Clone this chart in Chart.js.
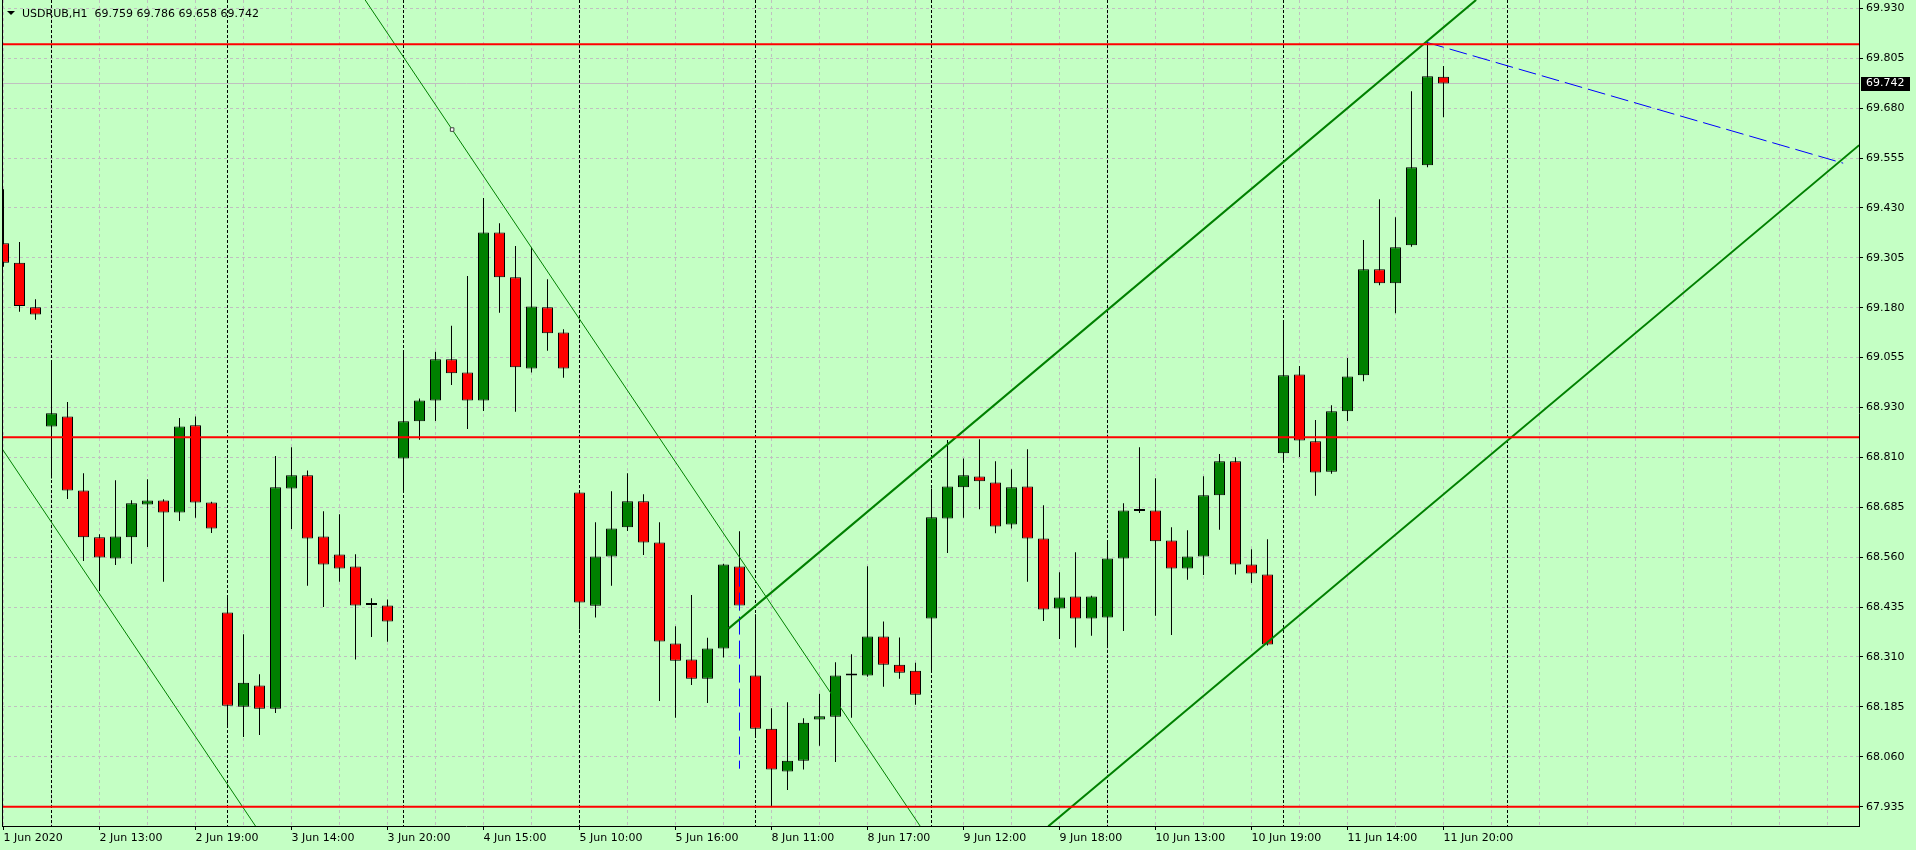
<!DOCTYPE html>
<html>
<head>
<meta charset="utf-8">
<title>USDRUB,H1</title>
<script src="https://cdn.jsdelivr.net/npm/chart.js@4.4.1/dist/chart.umd.min.js"></script>
<style>
    html, body { margin: 0; padding: 0; background: #c4ffc4; overflow: hidden; }
    #wrap { width: 1916px; height: 850px; }
</style>
</head>
<body>
<div id="wrap"><canvas id="chart" width="1916" height="850"></canvas></div>
<script>
// =============================================
// USDRUB H1 candles (MT4 look) drawn with Chart.js
// =============================================

const symbol = 'USDRUB,H1';

// one label every 6 bars, starting at bar 0
const timeLabels = [
    '1 Jun 2020', '2 Jun 13:00', '2 Jun 19:00', '3 Jun 14:00', '3 Jun 20:00', '4 Jun 15:00',
    '5 Jun 10:00', '5 Jun 16:00', '8 Jun 11:00', '8 Jun 17:00', '9 Jun 12:00', '9 Jun 18:00',
    '10 Jun 13:00', '10 Jun 19:00', '11 Jun 14:00', '11 Jun 20:00'
];

const yTickLabels = [
    '69.930', '69.805', '69.680', '69.555', '69.430', '69.305', '69.180', '69.055', '68.930',
    '68.810', '68.685', '68.560', '68.435', '68.310', '68.185', '68.060', '67.935'
];

const opens = [
    69.343, 69.294, 69.183, 68.885, 68.910, 68.725, 68.608, 68.555, 68.608, 68.690,
    68.700, 68.670, 68.888, 68.695, 68.420, 68.185, 68.238, 68.180, 68.730, 68.763,
    68.610, 68.565, 68.535, 68.439, 68.438, 68.805, 68.898, 68.950, 69.053, 69.020,
    68.950, 69.370, 69.258, 69.030, 69.183, 69.120, 68.720, 68.437, 68.560, 68.633,
    68.698, 68.595, 68.343, 68.303, 68.255, 68.330, 68.535, 68.263, 68.130, 68.023,
    68.050, 68.153, 68.160, 68.263, 68.263, 68.360, 68.290, 68.275, 68.405, 68.655,
    68.733, 68.760, 68.745, 68.640, 68.735, 68.605, 68.430, 68.460, 68.405, 68.408,
    68.555, 68.675, 68.675, 68.600, 68.530, 68.560, 68.713, 68.798, 68.540, 68.515,
    68.818, 69.015, 68.848, 68.772, 68.923, 69.013, 69.278, 69.243, 69.338, 69.538,
    69.759
];

const highs = [
    69.478, 69.346, 69.203, 69.045, 68.946, 68.768, 68.616, 68.751, 68.701, 68.753,
    68.703, 68.906, 68.910, 68.697, 68.461, 68.366, 68.266, 68.811, 68.833, 68.775,
    68.673, 68.666, 68.566, 68.456, 68.453, 69.075, 68.955, 69.072, 69.137, 69.261,
    69.456, 69.393, 69.336, 69.333, 69.253, 69.128, 68.726, 68.646, 68.723, 68.768,
    68.716, 68.646, 68.386, 68.464, 68.357, 68.542, 68.623, 68.416, 68.181, 68.196,
    68.156, 68.217, 68.296, 68.316, 68.536, 68.398, 68.358, 68.295, 68.730, 68.851,
    68.805, 68.853, 68.798, 68.778, 68.828, 68.688, 68.521, 68.571, 68.462, 68.596,
    68.693, 68.833, 68.756, 68.633, 68.626, 68.761, 68.816, 68.808, 68.578, 68.603,
    69.151, 69.036, 68.901, 68.938, 69.056, 69.351, 69.453, 69.408, 69.723, 69.845,
    69.786
];

const lows = [
    69.284, 69.172, 69.152, 68.755, 68.704, 68.549, 68.474, 68.539, 68.542, 68.584,
    68.497, 68.649, 68.657, 68.619, 68.138, 68.109, 68.114, 68.169, 68.629, 68.487,
    68.434, 68.497, 68.303, 68.359, 68.347, 68.724, 68.852, 68.899, 68.989, 68.879,
    68.924, 69.169, 68.922, 69.020, 69.074, 69.007, 68.378, 68.408, 68.487, 68.624,
    68.564, 68.199, 68.157, 68.239, 68.194, 68.308, 68.426, 68.109, 67.934, 67.977,
    68.028, 68.087, 68.047, 68.157, 68.260, 68.235, 68.255, 68.190, 68.275, 68.569,
    68.657, 68.678, 68.618, 68.630, 68.497, 68.399, 68.354, 68.333, 68.362, 68.334,
    68.374, 68.669, 68.412, 68.364, 68.502, 68.514, 68.627, 68.515, 68.494, 68.338,
    68.799, 68.809, 68.712, 68.767, 68.899, 68.998, 69.238, 69.168, 69.334, 69.533,
    69.658
];

const closes = [
    69.294, 69.186, 69.165, 68.918, 68.725, 68.608, 68.558, 68.610, 68.693, 68.700,
    68.670, 68.885, 68.695, 68.630, 68.187, 68.245, 68.180, 68.733, 68.763, 68.605,
    68.540, 68.530, 68.438, 68.439, 68.398, 68.898, 68.950, 69.053, 69.018, 68.950,
    69.370, 69.258, 69.033, 69.185, 69.118, 69.030, 68.445, 68.560, 68.630, 68.698,
    68.595, 68.348, 68.300, 68.255, 68.330, 68.540, 68.438, 68.130, 68.028, 68.050,
    68.145, 68.161, 68.263, 68.268, 68.360, 68.290, 68.270, 68.215, 68.658, 68.735,
    68.763, 68.748, 68.635, 68.733, 68.605, 68.428, 68.458, 68.405, 68.460, 68.555,
    68.675, 68.674, 68.598, 68.530, 68.560, 68.713, 68.798, 68.540, 68.518, 68.340,
    69.013, 68.850, 68.770, 68.923, 69.010, 69.278, 69.243, 69.333, 69.533, 69.760,
    69.742
];

// chart objects (bar index / price)
const levelPrices = [69.840, 68.858, 67.935];
const daySeparators = [3, 14, 25, 36, 47, 58, 69, 80, 94];
const thinLineA = [{ x: 22.6, y: 69.951 }, { x: 28.04, y: 69.627 }, { x: 57.3, y: 67.886 }];
const thinLineB = [{ x: -0.08, y: 68.829 }, { x: 15.76, y: 67.886 }];
const channelTop = [{ x: 45.31, y: 68.380 }, { x: 92.04, y: 69.951 }];
const channelBottom = [{ x: 65.30, y: 67.886 }, { x: 115.98, y: 69.588 }];
const blueDashed = [{ x: 88.94, y: 69.845 }, { x: 114.98, y: 69.543 }];
const blueVertical = [{ x: 46, y: 68.530 }, { x: 46, y: 68.030 }];

const colors = {
    bg: '#c4ffc4',
    grid: '#c0c0c0',
    bull: '#008000',
    bear: '#ff0000',
    level: '#ff0000',
    trend: '#008000',
    blue: '#0000ff'
};

const fontFamily = '"DejaVu Sans", Verdana, sans-serif';
const lastIndex = closes.length - 1;
const xMin = -0.094;
const xMax = 115.97;

const yTop = parseFloat(yTickLabels[0]);
const yBottom = parseFloat(yTickLabels[yTickLabels.length - 1]);
const yStep = (yTop - yBottom) / (yTickLabels.length - 1);

Chart.defaults.font.family = fontFamily;
Chart.defaults.font.size = 11;
Chart.defaults.color = '#000';

const lineSet = (data, color, width, dash) => ({
    type: 'line',
    data: data,
    borderColor: color,
    borderWidth: width,
    borderDash: dash || [],
    pointRadius: 0,
    fill: false,
    tension: 0,
    clip: 0,
    order: 1
});

const levelSets = levelPrices.map(p => lineSet([{ x: xMin - 1, y: p }, { x: xMax + 1, y: p }], colors.level, 2));

const markerSet = lineSet(thinLineA, colors.trend, 1);
markerSet.pointRadius = thinLineA.map((p, i) => (i === 1 ? 2.5 : 0));
markerSet.pointStyle = 'rect';
markerSet.pointBackgroundColor = '#ffffff';
markerSet.pointBorderColor = '#404040';
markerSet.pointBorderWidth = 1;

// background, frame, separators, bid line
const mt4Plugin = {
    id: 'mt4',
    beforeDraw: (chart) => {
        const ctx = chart.ctx;
        ctx.save();
        ctx.fillStyle = colors.bg;
        ctx.fillRect(0, 0, chart.width, chart.height);
        ctx.restore();
    },
    beforeDatasetsDraw: (chart) => {
        const { ctx, chartArea, scales } = chart;
        ctx.save();
        // bid line
        const by = Math.round(scales.y.getPixelForValue(closes[lastIndex]) - 0.5) + 0.5;
        ctx.strokeStyle = colors.grid;
        ctx.lineWidth = 1;
        ctx.beginPath();
        ctx.moveTo(chartArea.left, by);
        ctx.lineTo(chartArea.right, by);
        ctx.stroke();
        // period separators
        ctx.strokeStyle = '#000';
        ctx.setLineDash([3, 2]);
        daySeparators.forEach(i => {
            const x = Math.round(scales.x.getPixelForValue(i) - 0.5) + 0.5;
            ctx.beginPath();
            ctx.moveTo(x, chartArea.top);
            ctx.lineTo(x, chartArea.bottom);
            ctx.stroke();
        });
        ctx.restore();
    },
    afterDraw: (chart) => {
        const { ctx, chartArea, scales } = chart;
        ctx.save();
        // left frame
        ctx.strokeStyle = '#000';
        ctx.lineWidth = 1;
        ctx.beginPath();
        ctx.moveTo(chartArea.left + 0.5, chartArea.top);
        ctx.lineTo(chartArea.left + 0.5, chartArea.bottom);
        ctx.stroke();

        // current price box
        const py = scales.y.getPixelForValue(closes[lastIndex]);
        ctx.fillStyle = '#000';
        ctx.fillRect(chartArea.right + 2, Math.round(py) - 7, 49, 14);
        ctx.fillStyle = '#fff';
        ctx.font = '11px ' + fontFamily;
        ctx.textBaseline = 'middle';
        ctx.textAlign = 'left';
        ctx.fillText(closes[lastIndex].toFixed(3), chartArea.right + 7, py);

        // header
        ctx.fillStyle = '#000';
        ctx.beginPath();
        ctx.moveTo(7, 11);
        ctx.lineTo(15, 11);
        ctx.lineTo(11, 15);
        ctx.closePath();
        ctx.fill();
        ctx.textBaseline = 'alphabetic';
        const head = symbol + '  ' + [opens[lastIndex], highs[lastIndex], lows[lastIndex], closes[lastIndex]]
            .map(v => v.toFixed(3)).join(' ');
        ctx.fillText(head, 22, 17);
        ctx.restore();
    }
};

const ctx = document.getElementById('chart');

new Chart(ctx, {
    type: 'bar',
    plugins: [mt4Plugin],
    data: {
        datasets: [
            {
                label: 'wicks',
                data: lows.map((l, i) => ({ x: i, y: [l, highs[i]] })),
                backgroundColor: '#000',
                borderWidth: 0,
                barThickness: 1,
                grouped: false,
                inflateAmount: 0,
                order: 3
            },
            {
                label: 'bodies',
                data: opens.map((o, i) => ({ x: i, y: [o, closes[i]] })),
                backgroundColor: opens.map((o, i) => (closes[i] >= o ? colors.bull : colors.bear)),
                borderColor: '#000',
                borderWidth: 1,
                borderSkipped: false,
                barThickness: 11,
                minBarLength: 2,
                grouped: false,
                inflateAmount: 0,
                order: 2
            },
            ...levelSets,
            markerSet,
            lineSet(thinLineB, colors.trend, 1),
            lineSet(channelTop, colors.trend, 2),
            lineSet(channelBottom, colors.trend, 2),
            lineSet(blueDashed, colors.blue, 1, [18, 6]),
            lineSet(blueVertical, colors.blue, 1, [18, 6])
        ]
    },
    options: {
        responsive: false,
        animation: false,
        events: [],
        layout: { padding: { left: 2, top: 0, right: 0, bottom: 0 } },
        plugins: {
            legend: { display: false },
            tooltip: { enabled: false }
        },
        scales: {
            x: {
                type: 'linear',
                min: xMin,
                max: xMax,
                offset: false,
                afterBuildTicks: (scale) => {
                    const t = [];
                    for (let i = 0; i <= 114; i += 3) t.push({ value: i });
                    scale.ticks = t;
                },
                afterFit: (scale) => {
                    scale.height = 24;
                    scale.paddingLeft = 0;
                    scale.paddingRight = 0;
                },
                ticks: {
                    autoSkip: false,
                    maxRotation: 0,
                    minRotation: 0,
                    align: 'start',
                    padding: 2,
                    color: '#000',
                    callback: (value) => (value % 6 === 0 && value / 6 < timeLabels.length ? timeLabels[value / 6] : '')
                },
                grid: {
                    offset: false,
                    color: colors.grid,
                    tickLength: 4,
                    tickColor: (c) => (c.tick && c.tick.value % 6 === 0 && c.tick.value / 6 < timeLabels.length ? '#000' : 'rgba(0,0,0,0)')
                },
                border: { color: '#000', width: 1, dash: [3, 3] }
            },
            y: {
                type: 'linear',
                position: 'right',
                min: yBottom - 19.3 / 400.2,
                max: yTop + 8.3 / 400.2,
                afterBuildTicks: (scale) => {
                    scale.ticks = yTickLabels.map((_, k) => ({ value: yTop - k * yStep }));
                },
                afterFit: (scale) => {
                    scale.width = 57;
                    scale.paddingTop = 0;
                    scale.paddingBottom = 0;
                },
                ticks: {
                    padding: 3,
                    color: '#000',
                    callback: (value, index) => yTickLabels[index]
                },
                grid: {
                    color: colors.grid,
                    tickLength: 4,
                    tickColor: '#000'
                },
                border: { color: '#000', width: 1, dash: [3, 3] }
            }
        }
    }
});
</script>
</body>
</html>
